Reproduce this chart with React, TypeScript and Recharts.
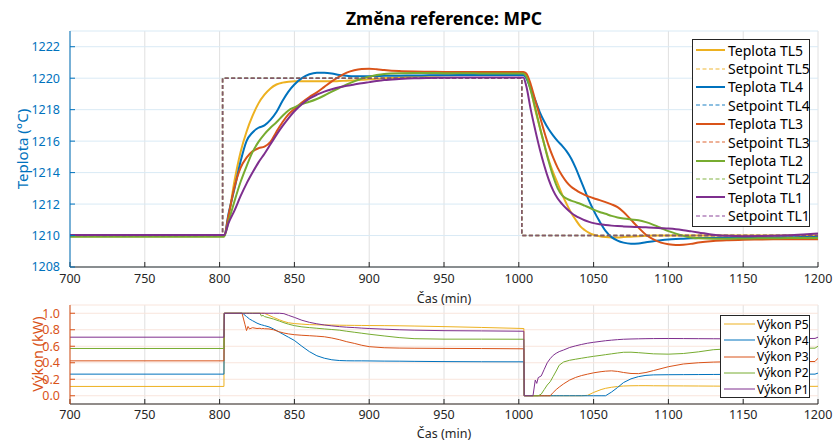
import React from "react"
import { LineChart, Line, XAxis, YAxis, CartesianGrid } from "recharts"

const FONT = '"Noto Sans", "Open Sans", sans-serif'
const AX = "#262626"
const YELLOW = "#EDB120"
const BLUE = "#0072BD"
const ORANGE = "#D95319"
const GREEN = "#77AC30"
const PURPLE = "#7E2F8E"

const timeTicks = [700, 750, 800, 850, 900, 950, 1000, 1050, 1100, 1150, 1200]
const tempTicks = [1208, 1210, 1212, 1214, 1216, 1218, 1220, 1222]
const powerTicks = [0, 0.2, 0.4, 0.6, 0.8, 1.0]

// teploty (°C)
const tTemp = [700, 790, 803, 806, 810, 814, 818, 822, 826, 830, 834, 838, 842, 846, 850, 855, 860, 865, 870, 875, 880, 885, 890, 895, 900, 905, 910, 920, 930, 940, 950, 960, 970, 980, 990, 1000, 1003, 1005, 1008, 1011, 1014, 1017, 1020, 1023, 1026, 1029, 1032, 1035, 1038, 1041, 1044, 1047, 1050, 1054, 1058, 1062, 1066, 1070, 1075, 1080, 1085, 1090, 1095, 1100, 1105, 1110, 1115, 1120, 1130, 1140, 1150, 1160, 1170, 1180, 1190, 1200]
const TL5 = [1209.95, 1209.95, 1209.95, 1211.2, 1213.5, 1215.3, 1216.6, 1217.6, 1218.4, 1218.95, 1219.35, 1219.6, 1219.72, 1219.78, 1219.8, 1219.8, 1219.8, 1219.8, 1219.8, 1219.8, 1219.82, 1219.84, 1219.86, 1219.9, 1219.93, 1219.96, 1220.0, 1220.05, 1220.1, 1220.15, 1220.18, 1220.2, 1220.22, 1220.25, 1220.27, 1220.28, 1220.28, 1220.2, 1219.3, 1218.0, 1216.9, 1215.8, 1214.8, 1214.0, 1213.3, 1212.6, 1212.0, 1211.45, 1211.0, 1210.6, 1210.35, 1210.17, 1210.05, 1209.95, 1209.9, 1209.88, 1209.88, 1209.9, 1209.93, 1209.96, 1209.98, 1210.0, 1210.0, 1210.0, 1210.0, 1210.0, 1210.0, 1210.0, 1210.0, 1210.0, 1210.0, 1210.0, 1210.0, 1210.0, 1210.0, 1210.0]
const TL4 = [1209.98, 1209.98, 1209.98, 1211.4, 1213.0, 1214.7, 1216.0, 1216.55, 1216.85, 1217.0, 1217.35, 1217.85, 1218.55, 1219.15, 1219.6, 1220.0, 1220.25, 1220.35, 1220.35, 1220.3, 1220.2, 1220.15, 1220.12, 1220.12, 1220.13, 1220.14, 1220.15, 1220.16, 1220.17, 1220.18, 1220.19, 1220.2, 1220.2, 1220.2, 1220.2, 1220.2, 1220.2, 1220.0, 1219.3, 1218.6, 1217.85, 1217.25, 1216.75, 1216.35, 1216.0, 1215.7, 1215.35, 1214.9, 1214.3, 1213.6, 1212.9, 1212.2, 1211.6, 1210.9, 1210.3, 1209.9, 1209.68, 1209.55, 1209.48, 1209.5, 1209.57, 1209.63, 1209.7, 1209.75, 1209.78, 1209.8, 1209.82, 1209.84, 1209.85, 1209.86, 1209.87, 1209.88, 1209.88, 1209.89, 1209.9, 1209.9]
const TL3 = [1209.98, 1209.98, 1209.98, 1211.3, 1213.1, 1214.3, 1214.95, 1215.35, 1215.55, 1215.65, 1215.95, 1216.6, 1217.2, 1217.7, 1218.05, 1218.45, 1218.8, 1219.1, 1219.45, 1219.8, 1220.1, 1220.35, 1220.5, 1220.58, 1220.6, 1220.57, 1220.52, 1220.45, 1220.42, 1220.41, 1220.4, 1220.4, 1220.4, 1220.4, 1220.4, 1220.4, 1220.4, 1220.3, 1219.6, 1218.6, 1217.6, 1216.6, 1215.7, 1214.95, 1214.3, 1213.8, 1213.4, 1213.1, 1212.9, 1212.72, 1212.58, 1212.47, 1212.37, 1212.25, 1212.12, 1211.98, 1211.8, 1211.5, 1211.0, 1210.5, 1210.05, 1209.75, 1209.55, 1209.45, 1209.4, 1209.42, 1209.47, 1209.55, 1209.65, 1209.7, 1209.73, 1209.75, 1209.76, 1209.76, 1209.77, 1209.77]
const TL2 = [1209.93, 1209.93, 1209.93, 1210.9, 1212.2, 1213.4, 1214.4, 1215.3, 1215.95, 1216.45, 1216.85, 1217.2, 1217.6, 1217.95, 1218.15, 1218.35, 1218.5, 1218.68, 1218.9, 1219.15, 1219.38, 1219.6, 1219.8, 1219.98, 1220.1, 1220.2, 1220.27, 1220.32, 1220.33, 1220.33, 1220.32, 1220.32, 1220.31, 1220.3, 1220.3, 1220.3, 1220.3, 1220.1, 1219.2, 1218.1, 1216.9, 1215.8, 1214.7, 1213.75, 1213.0, 1212.55, 1212.35, 1212.22, 1212.12, 1212.02, 1211.9, 1211.78, 1211.65, 1211.5, 1211.38, 1211.25, 1211.15, 1211.08, 1211.02, 1210.97, 1210.85, 1210.68, 1210.48, 1210.28, 1210.12, 1209.98, 1209.88, 1209.82, 1209.8, 1209.8, 1209.81, 1209.82, 1209.83, 1209.84, 1209.85, 1209.85]
const TL1 = [1210.03, 1210.03, 1210.03, 1210.8, 1211.6, 1212.5, 1213.3, 1214.0, 1214.65, 1215.2, 1215.8, 1216.4, 1216.95, 1217.45, 1217.9, 1218.35, 1218.7, 1218.95, 1219.15, 1219.3, 1219.42, 1219.52, 1219.6, 1219.68, 1219.75, 1219.82, 1219.88, 1219.95, 1220.0, 1220.02, 1220.03, 1220.04, 1220.04, 1220.05, 1220.05, 1220.05, 1220.05, 1219.5, 1218.0, 1216.7, 1215.5, 1214.45, 1213.55, 1212.85, 1212.35, 1212.0, 1211.7, 1211.45, 1211.25, 1211.1, 1210.97, 1210.87, 1210.79, 1210.72, 1210.67, 1210.63, 1210.6, 1210.58, 1210.56, 1210.54, 1210.52, 1210.5, 1210.47, 1210.44, 1210.4, 1210.34, 1210.27, 1210.2, 1210.05, 1209.98, 1209.96, 1209.97, 1209.99, 1210.02, 1210.07, 1210.13]

// setpoint (same for all zones)
const spTimes = [700, 802, 802, 1002, 1002, 1200]
const spValues = [1210, 1210, 1220, 1220, 1210, 1210]

// vykony (kW)
const tPow = [700, 802.9, 803.1, 815, 816, 817, 818, 819, 820, 822, 825, 827, 828, 829, 830, 833, 836, 840, 843, 846, 850, 855, 860, 865, 870, 875, 880, 885, 890, 895, 900, 910, 920, 930, 950, 975, 1003.4, 1003.6, 1009.5, 1011, 1012, 1013, 1015, 1017, 1019, 1021, 1023, 1025, 1027, 1030, 1034, 1038, 1042, 1046, 1050, 1055, 1058, 1062, 1066, 1070, 1075, 1080, 1085, 1090, 1100, 1110, 1120, 1130, 1140, 1160, 1180, 1198, 1200]
const P5 = [0.113, 0.113, 1, 1, 1, 1, 1, 1, 1, 1, 1, 1, 1, 1, 1, 0.975, 0.95, 0.92, 0.9, 0.885, 0.875, 0.868, 0.862, 0.86, 0.858, 0.857, 0.855, 0.854, 0.853, 0.852, 0.851, 0.85, 0.848, 0.845, 0.838, 0.828, 0.815, 0, 0, 0, 0, 0, 0, 0, 0, 0, 0, 0, 0, 0, 0, 0, 0, 0.005, 0.04, 0.075, 0.09, 0.103, 0.112, 0.118, 0.121, 0.122, 0.122, 0.121, 0.12, 0.119, 0.118, 0.117, 0.116, 0.115, 0.115, 0.114, 0.115]
const P4 = [0.262, 0.262, 1, 1, 0.99, 0.975, 0.96, 0.945, 0.93, 0.91, 0.88, 0.865, 0.86, 0.855, 0.85, 0.835, 0.81, 0.77, 0.74, 0.71, 0.67, 0.6, 0.535, 0.485, 0.455, 0.436, 0.427, 0.424, 0.423, 0.423, 0.422, 0.42, 0.419, 0.417, 0.414, 0.412, 0.411, 0, 0, 0, 0, 0, 0, 0, 0, 0, 0, 0, 0, 0, 0, 0, 0, 0, 0, 0, 0, 0.045, 0.1, 0.16, 0.205, 0.232, 0.247, 0.253, 0.255, 0.256, 0.257, 0.258, 0.259, 0.26, 0.261, 0.262, 0.275]
const P3 = [0.423, 0.423, 1, 1, 0.93, 0.86, 0.79, 0.84, 0.81, 0.825, 0.815, 0.818, 0.812, 0.815, 0.812, 0.81, 0.8, 0.775, 0.76, 0.75, 0.74, 0.733, 0.728, 0.722, 0.715, 0.7, 0.68, 0.655, 0.635, 0.612, 0.595, 0.582, 0.578, 0.576, 0.574, 0.572, 0.569, 0, 0, 0, 0, 0, 0, 0, 0, 0, 0.04, 0.075, 0.105, 0.145, 0.19, 0.222, 0.245, 0.262, 0.278, 0.292, 0.298, 0.302, 0.295, 0.282, 0.27, 0.268, 0.282, 0.305, 0.352, 0.385, 0.4, 0.408, 0.412, 0.414, 0.415, 0.415, 0.455]
const P2 = [0.573, 0.573, 1, 1, 1, 1, 1, 1, 1, 1, 1, 1, 0.965, 0.975, 0.96, 0.945, 0.93, 0.905, 0.885, 0.868, 0.85, 0.835, 0.826, 0.818, 0.81, 0.803, 0.795, 0.782, 0.77, 0.758, 0.746, 0.725, 0.705, 0.692, 0.686, 0.686, 0.685, 0, 0, 0, 0, 0, 0.02, 0.075, 0.13, 0.17, 0.235, 0.3, 0.37, 0.41, 0.43, 0.443, 0.455, 0.467, 0.478, 0.49, 0.498, 0.508, 0.518, 0.527, 0.528, 0.522, 0.515, 0.508, 0.504, 0.512, 0.532, 0.558, 0.568, 0.573, 0.576, 0.577, 0.6]
const P1 = [0.71, 0.71, 1, 1, 1, 1, 1, 1, 1, 1, 1, 1, 1, 1, 1, 1, 1, 1, 0.995, 0.975, 0.95, 0.915, 0.89, 0.872, 0.858, 0.847, 0.838, 0.831, 0.826, 0.82, 0.815, 0.807, 0.8, 0.795, 0.789, 0.786, 0.782, 0, 0, 0.19, 0.15, 0.22, 0.24, 0.32, 0.4, 0.45, 0.49, 0.515, 0.535, 0.555, 0.585, 0.605, 0.622, 0.637, 0.648, 0.66, 0.667, 0.674, 0.68, 0.685, 0.688, 0.69, 0.692, 0.693, 0.694, 0.693, 0.692, 0.691, 0.69, 0.69, 0.69, 0.695, 0.71]

const tempData = tTemp.map((t, i) => ({ t, TL5: TL5[i], TL4: TL4[i], TL3: TL3[i], TL2: TL2[i], TL1: TL1[i] }))
const spData = spTimes.map((t, i) => ({ t, v: spValues[i] }))
const powData = tPow.map((t, i) => ({ t, P5: P5[i], P4: P4[i], P3: P3[i], P2: P2[i], P1: P1[i] }))

const zones = [
  { id: "5", color: YELLOW },
  { id: "4", color: BLUE },
  { id: "3", color: ORANGE },
  { id: "2", color: GREEN },
  { id: "1", color: PURPLE },
]

const tickStyle = { fill: AX, fontSize: 12.5 }

function BoxAxes({ domain, ticks }: { domain: number[]; ticks: number[] }) {
  return null
}

export default function App() {
  return (
    <div style={{ position: "absolute", left: 0, top: 0, width: 837, height: 443, background: "#fff", fontFamily: FONT }}>
      <div style={{ position: "absolute", left: 244, width: 400, top: 6, textAlign: "center", fontWeight: 700, fontSize: 17.5, color: "#000", lineHeight: "24px" }}>
        Změna reference: MPC
      </div>

      <div style={{ position: "absolute", left: 0, top: 0 }}>
        <LineChart width={837} height={300} data={tempData} margin={{ top: 31, right: 19, bottom: 8, left: 0 }}>
          <CartesianGrid horizontal={false} stroke="#e0e0e0" />
          <CartesianGrid vertical={false} stroke="#d9eaf5" />
          <XAxis type="number" dataKey="t" domain={[700, 1200]} ticks={timeTicks} interval={0} height={25}
            tickSize={-5} tickMargin={12} stroke={AX} tick={tickStyle} allowDataOverflow />
          <XAxis xAxisId="top" orientation="top" type="number" dataKey="t" domain={[700, 1200]} ticks={timeTicks}
            interval={0} height={0} tickSize={-5} tick={false} stroke={AX} allowDataOverflow />
          <YAxis type="number" domain={[1208, 1223]} ticks={tempTicks} interval={0} width={70}
            tickSize={-5} tickMargin={15} stroke={BLUE} tick={{ fill: BLUE, fontSize: 12.5 }} allowDataOverflow />
          <YAxis yAxisId="r" orientation="right" type="number" domain={[1208, 1223]} ticks={tempTicks} interval={0}
            width={0} tickSize={-5} tick={false} stroke={AX} allowDataOverflow />
          {zones.flatMap((z) => [
            <Line key={"TL" + z.id} dataKey={"TL" + z.id} type="monotone" stroke={z.color} strokeWidth={2}
              dot={false} isAnimationActive={false} />,
            <Line key={"SP" + z.id} data={spData} dataKey="v" type="linear" stroke={z.color} strokeOpacity={0.6}
              strokeWidth={1.5} strokeDasharray="4 2.5" dot={false} isAnimationActive={false} />,
          ])}
        </LineChart>
      </div>

      <div style={{ position: "absolute", left: 0, top: 300 }}>
        <LineChart width={837} height={143} data={powData} margin={{ top: 5, right: 19, bottom: 14, left: 0 }}>
          <CartesianGrid horizontal={false} stroke="#e0e0e0" />
          <CartesianGrid vertical={false} stroke="#f9e5dc" />
          <XAxis type="number" dataKey="t" domain={[700, 1200]} ticks={timeTicks} interval={0} height={25}
            tickSize={-5} tickMargin={11} stroke={AX} tick={tickStyle} allowDataOverflow />
          <XAxis xAxisId="top" orientation="top" type="number" dataKey="t" domain={[700, 1200]} ticks={timeTicks}
            interval={0} height={0} tickSize={-5} tick={false} stroke={AX} allowDataOverflow />
          <YAxis type="number" domain={[-0.1, 1.1]} ticks={powerTicks} interval={0} width={70}
            tickSize={-5} tickMargin={15} stroke={ORANGE} tick={{ fill: ORANGE, fontSize: 12.5 }}
            tickFormatter={(v: number) => v.toFixed(1)} allowDataOverflow />
          <YAxis yAxisId="r" orientation="right" type="number" domain={[-0.1, 1.1]} ticks={powerTicks} interval={0}
            width={0} tickSize={-5} tick={false} stroke={AX} allowDataOverflow />
          {zones.map((z) => (
            <Line key={"P" + z.id} dataKey={"P" + z.id} type="linear" stroke={z.color} strokeWidth={1}
              dot={false} isAnimationActive={false} />
          ))}
        </LineChart>
      </div>

      <div style={{ position: "absolute", left: 394, width: 100, top: 290, textAlign: "center", fontSize: 12.5, color: AX }}>
        Čas (min)
      </div>
      <div style={{ position: "absolute", left: 394, width: 100, top: 425, textAlign: "center", fontSize: 12.5, color: AX }}>
        Čas (min)
      </div>

      <div style={{ position: "absolute", left: 22, top: 149, width: 0, height: 0 }}>
        <div style={{ position: "absolute", left: -60, top: -10, width: 120, textAlign: "center", fontSize: 15, color: BLUE, transform: "rotate(-90deg)", lineHeight: "20px", whiteSpace: "nowrap" }}>
          Teplota (°C)
        </div>
      </div>
      <div style={{ position: "absolute", left: 37, top: 354, width: 0, height: 0 }}>
        <div style={{ position: "absolute", left: -60, top: -10, width: 120, textAlign: "center", fontSize: 14.5, color: ORANGE, transform: "rotate(-90deg)", lineHeight: "20px", whiteSpace: "nowrap" }}>
          Výkon (kW)
        </div>
      </div>

      <div style={{ position: "absolute", left: 692, top: 39, width: 116, height: 185, border: "1px solid " + AX, background: "#fff", paddingTop: 1 }}>
        {zones.flatMap((z) => [
          { label: "Teplota TL" + z.id, color: z.color, dash: false },
          { label: "Setpoint TL" + z.id, color: z.color, dash: true },
        ]).map((r) => (
          <div key={r.label} style={{ height: 18.4, display: "flex", alignItems: "center", fontSize: 14, color: "#000", whiteSpace: "nowrap" }}>
            <svg width={32} height={10} style={{ marginLeft: 2, flex: "none" }}>
              <line x1={1} x2={30} y1={5} y2={5} stroke={r.color} strokeWidth={r.dash ? 1.5 : 2}
                strokeOpacity={r.dash ? 0.6 : 1} strokeDasharray={r.dash ? "4 2.5" : undefined} />
            </svg>
            <span style={{ marginLeft: 1 }}>{r.label}</span>
          </div>
        ))}
      </div>

      <div style={{ position: "absolute", left: 720, top: 315, width: 88, height: 81, border: "1px solid " + AX, background: "#fff" }}>
        {zones.map((z) => (
          <div key={z.id} style={{ height: 16.25, display: "flex", alignItems: "center", fontSize: 12, color: "#000", whiteSpace: "nowrap" }}>
            <svg width={33} height={8} style={{ marginLeft: 2, flex: "none" }}>
              <line x1={1} x2={32} y1={4} y2={4} stroke={z.color} strokeWidth={1} />
            </svg>
            <span style={{ marginLeft: 1 }}>{"Výkon P" + z.id}</span>
          </div>
        ))}
      </div>
    </div>
  )
}
